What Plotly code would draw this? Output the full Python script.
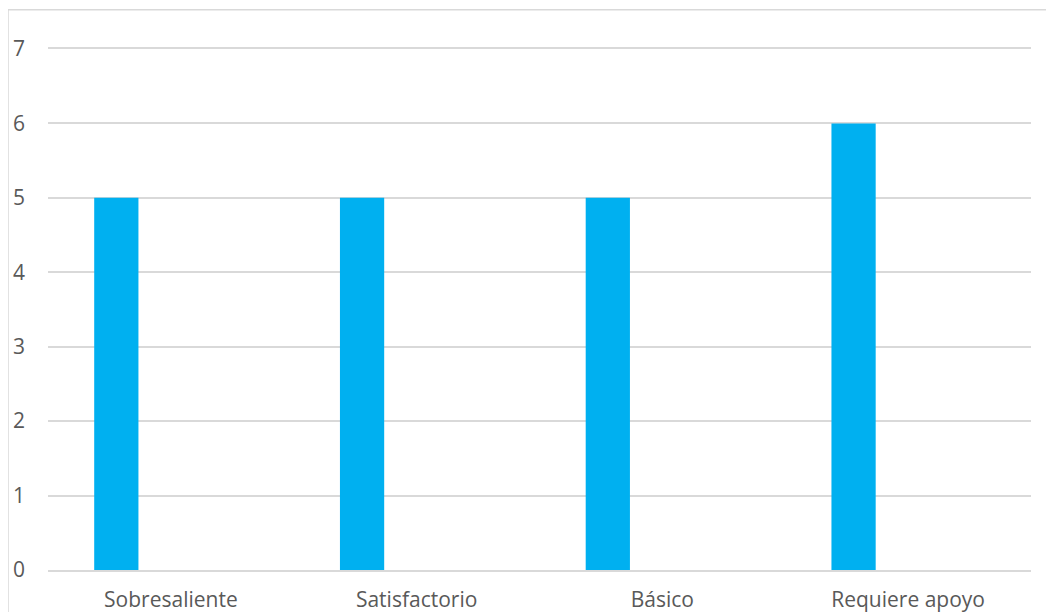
import plotly.graph_objects as go

categories = ["Sobresaliente", "Satisfactorio", "Básico", "Requiere apoyo"]
values = [5, 5, 5, 6]
y_ticks = [0, 1, 2, 3, 4, 5, 6, 7]

# page body has an 8px default margin; figure coordinates are shifted accordingly
OFF = 8
W, H = 1054, 612
L = 48 - OFF
T = 49.3 - OFF
R = W - (1031 - OFF)
B = H - (570.5 - OFF)
pw = W - L - R
ph = H - T - B

fig = go.Figure()
fig.add_trace(go.Bar(
    x=categories, y=values,
    marker=dict(color="#00B0F0", line=dict(width=0)),
    width=0.18, offset=-0.312,
    showlegend=False, hoverinfo="x+y",
))

font = dict(family="Open Sans, Liberation Sans, sans-serif", size=21, color="#595959")

fig.update_layout(
    width=W, height=H,
    margin=dict(l=L, r=R, t=T, b=B, pad=0, autoexpand=False),
    paper_bgcolor="white", plot_bgcolor="white",
    font=font,
    xaxis=dict(
        type="category", showgrid=False, showline=True, mirror=True,
        linecolor="#d9d9d9", linewidth=1.5, automargin=False,
        ticks="", tickfont=font, zeroline=False, ticklabelstandoff=10,
    ),
    yaxis=dict(
        range=[0, 7], tickvals=y_ticks, showgrid=True, gridcolor="#d9d9d9", gridwidth=1.5,
        zeroline=False, showline=False, ticks="", tickfont=font, ticklabelstandoff=22,
        automargin=False,
    ),
    shapes=[dict(
        type="rect", xref="paper", yref="paper",
        x0=(8 - OFF - L) / pw, x1=(W + 20 - L) / pw,
        y0=(H - (H + 20) - B) / ph, y1=(H - (10 - OFF) - B) / ph,
        line=dict(color="#d9d9d9", width=1.5), fillcolor="rgba(0,0,0,0)", layer="below",
    )],
)

fig.write_html("out.html")
